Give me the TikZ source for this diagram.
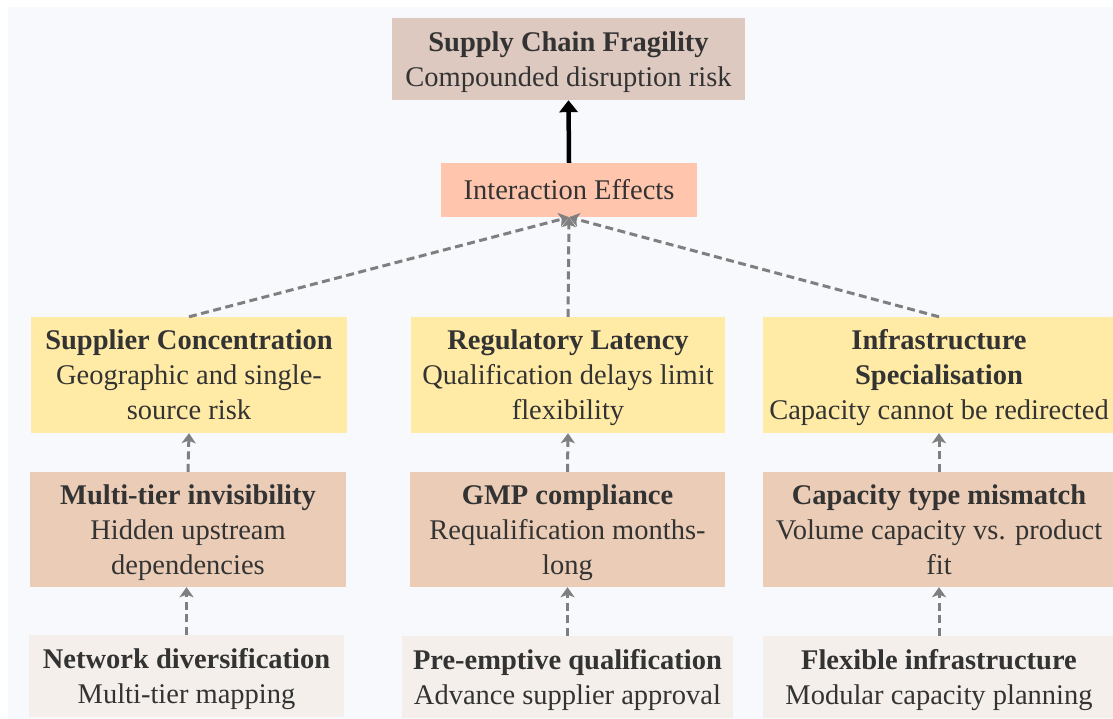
\documentclass[tikz,border=0pt]{standalone}
\usepackage{fontspec}
\setmainfont{Liberation Serif}
\usetikzlibrary{arrows.meta}
\definecolor{bgc}{HTML}{F8F9FD}
\definecolor{topc}{HTML}{DDC9C0}
\definecolor{interc}{HTML}{FFC5AD}
\definecolor{yelc}{HTML}{FFEBA6}
\definecolor{tanc}{HTML}{EBCDB7}
\definecolor{botc}{HTML}{F4EFEA}
\definecolor{txt}{HTML}{333333}
\definecolor{edgec}{HTML}{7F7F7F}
\newcommand\lnstrut{\rule[-7.9pt]{0pt}{35pt}}
\begin{document}
\begin{tikzpicture}[x=1pt,y=-1pt,
  box/.style={inner sep=0pt, align=center, text=txt, font=\fontsize{28.5}{35}\selectfont},
  dashedge/.style={draw=edgec, line width=3pt, dash pattern=on 8pt off 4.5pt,
    -{Stealth[length=10pt,width=14pt,inset=2.5pt]}},
  solidedge/.style={draw=black, line width=4.5pt, -{Triangle[length=12pt,width=18pt]}},
]
\useasboundingbox (0,0) rectangle (1113,719);
\clip (0,0) rectangle (1113,719);
\fill[white] (0,0) rectangle (1113,719);
\fill[bgc] (8,7) rectangle (1113,719);

\node[box, fill=topc, minimum width=353, minimum height=82] (top) at (568.5,59)
  {\lnstrut\textbf{Supply Chain Fragility}\\\lnstrut Compounded disruption risk};
\node[box, fill=interc, minimum width=256, minimum height=54] (inter) at (569,190)
  {\lnstrut Interaction Effects};

\node[box, fill=yelc, minimum width=316, minimum height=116] (supp) at (189,375)
  {\lnstrut\textbf{Supplier Concentration}\\\lnstrut Geographic and single-\\\lnstrut source risk};
\node[box, fill=yelc, minimum width=314, minimum height=116] (reg) at (568,375)
  {\lnstrut\textbf{Regulatory Latency}\\\lnstrut Qualification delays limit\\\lnstrut flexibility};
\node[box, fill=yelc, minimum width=352, minimum height=116] (infra) at (939,375)
  {\lnstrut\textbf{Infrastructure}\\\lnstrut\textbf{Specialisation}\\\lnstrut Capacity cannot be redirected};

\node[box, fill=tanc, minimum width=316, minimum height=115] (mtier) at (188,529.5)
  {\lnstrut\textbf{Multi-tier invisibility}\\\lnstrut Hidden upstream\\\lnstrut dependencies};
\node[box, fill=tanc, minimum width=315, minimum height=115] (gmp) at (567.5,529.5)
  {\lnstrut\textbf{GMP compliance}\\\lnstrut Requalification months-\\\lnstrut long};
\node[box, fill=tanc, minimum width=352, minimum height=115] (cap) at (939,529.5)
  {\lnstrut\textbf{Capacity type mismatch}\\\lnstrut Volume capacity vs. product\\\lnstrut fit};

\node[box, fill=botc, minimum width=315, minimum height=82] (net) at (186.5,676)
  {\lnstrut\textbf{Network diversification}\\\lnstrut Multi-tier mapping};
\node[box, fill=botc, minimum width=331, minimum height=82] (pre) at (567.5,677)
  {\lnstrut\textbf{Pre-emptive qualification}\\\lnstrut Advance supplier approval};
\node[box, fill=botc, minimum width=352, minimum height=82] (flex) at (939,677)
  {\lnstrut\textbf{Flexible infrastructure}\\\lnstrut Modular capacity planning};

\draw[solidedge] (inter.north) -- (top.south);
\draw[dashedge] (supp.north) -- (inter.south);
\draw[dashedge] (reg.north) -- (inter.south);
\draw[dashedge] (infra.north) -- (inter.south);
\draw[dashedge] (mtier.north) -- (supp.south);
\draw[dashedge] (gmp.north) -- (reg.south);
\draw[dashedge] (cap.north) -- (infra.south);
\draw[dashedge] (net.north) -- (net.north |- mtier.south);
\draw[dashedge] (pre.north) -- (gmp.south);
\draw[dashedge] (flex.north) -- (cap.south);
\end{tikzpicture}
\end{document}
